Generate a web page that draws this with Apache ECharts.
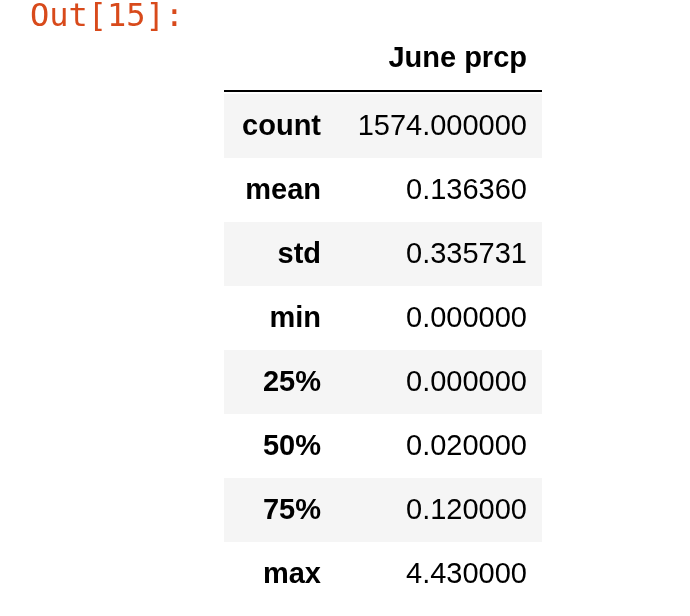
<!DOCTYPE html>
<html>
<head>
<meta charset="utf-8">
<script src="https://cdn.jsdelivr.net/npm/echarts@6/dist/echarts.min.js"></script>
<style>html,body{margin:0;padding:0;background:#fff;}#main{width:690px;height:616px;}</style>
</head>
<body>
<div id="main"></div>
<script>
var rowNames = ['count', 'mean', 'std', 'min', '25%', '50%', '75%', 'max'];
var juneValues = ['1574.000000', '0.136360', '0.335731', '0.000000', '0.000000', '0.020000', '0.120000', '4.430000'];
var columnName = 'June prcp';

var myChart = echarts.init(document.getElementById('main'));

var font = '"Liberation Sans", Arial, Helvetica, sans-serif';

var option = {
	animation: false,
	grid: { left: 224, right: 148, top: 94, bottom: 10 },
	xAxis: { type: 'value', min: 0, max: 1, show: false },
	yAxis: { type: 'category', data: rowNames, inverse: true, show: false },
	graphic: [
		{ type: 'text', left: 30, top: 2, style: { text: 'Out[15]:', fill: '#d84a1b', font: '32px "DejaVu Sans Mono", monospace' } },
		{ type: 'text', right: 163, top: 44, style: { text: columnName, fill: '#000', font: 'bold 29px ' + font } },
		{ type: 'line', shape: { x1: 224, y1: 91, x2: 542, y2: 91 }, style: { stroke: '#000', lineWidth: 2 } }
	],
	series: [{
		type: 'custom',
		data: rowNames.map(function (n, i) { return [0, i]; }),
		renderItem: function (params, api) {
			var i = api.value(1);
			var c = api.coord([0, i]);
			var h = api.size([0, 1])[1];
			var left = params.coordSys.x, w = params.coordSys.width;
			return {
				type: 'group',
				children: [
					{ type: 'rect', shape: { x: left, y: c[1] - h / 2, width: w, height: h },
					  style: { fill: i % 2 === 0 ? '#f5f5f5' : '#fff' } },
					{ type: 'text', x: 321, y: c[1] + 1, style: { text: rowNames[i], align: 'right', verticalAlign: 'middle', fill: '#000', font: 'bold 29px ' + font } },
					{ type: 'text', x: 527, y: c[1] + 1, style: { text: juneValues[i], align: 'right', verticalAlign: 'middle', fill: '#000', font: '29px ' + font } }
				]
			};
		}
	}]
};

myChart.setOption(option);
</script>
</body>
</html>
